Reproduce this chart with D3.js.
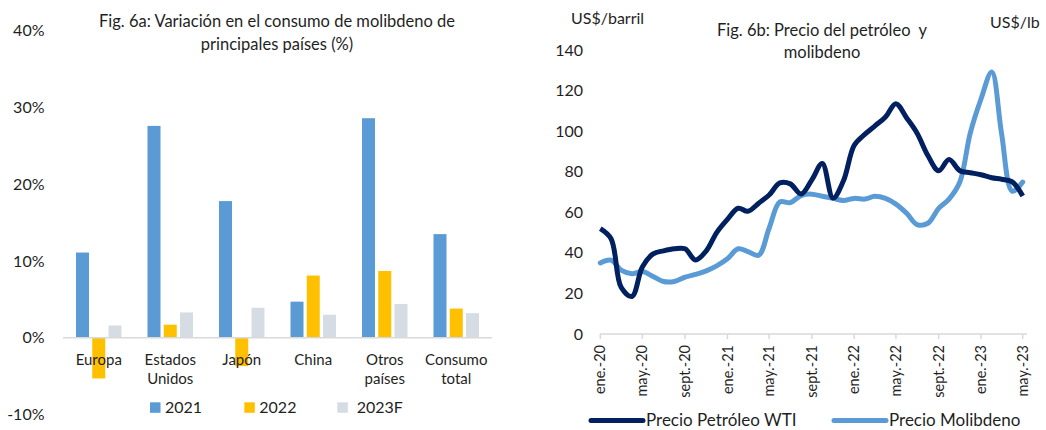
<!DOCTYPE html>
<html>
<head>
<meta charset="utf-8">
<script src="https://cdn.jsdelivr.net/npm/d3@7"></script>
<style>
    body { margin: 0; background: #fff; }
    svg { display: block; font-family: Lato, sans-serif; }
</style>
</head>
<body>
<svg id="chart" width="1046" height="430"></svg>
<script>
// ---- Fig. 6a data (% change) ----
const countries = [["Europa"], ["Estados", "Unidos"], ["Japón"], ["China"], ["Otros", "países"], ["Consumo", "total"]];
const seriesNames = ["2021", "2022", "2023F"];
const v2021 = [11.1, 27.6, 17.8, 4.7, 28.6, 13.5];
const v2022 = [-5.3, 1.7, -3.7, 8.1, 8.7, 3.8];
const v2023F = [1.6, 3.3, 3.9, 3.0, 4.4, 3.2];
const pctTicks = [-10, 0, 10, 20, 30, 40];

// ---- Fig. 6b data (monthly, ene.-20 .. may.-23) ----
const wti = [52, 47, 23, 18.5, 33, 39.5, 41, 42, 42, 36.5, 41, 50, 56.5,
    62, 60.5, 64.5, 68.5, 74.5, 74, 69, 76, 84, 67, 75.5, 93, 98.5, 102.5,
    107, 113.5, 106.5, 99, 88, 80.5, 86, 80.5, 79.5, 78.5, 77, 76.3, 75, 68];
// US$/lb, read against the hidden right axis (0..40)
const molibdeno = [10.0, 10.4, 9.0, 8.5, 8.8, 8.1, 7.4, 7.4, 8.0, 8.4, 8.9, 9.6, 10.6,
    12.0, 11.6, 11.1, 14.9, 18.6, 18.5, 19.5, 19.7, 19.4, 19.1, 18.8, 19.1, 19.0, 19.4,
    19.1, 18.3, 17.0, 15.4, 15.6, 17.7, 19.0, 21.4, 28.3, 33.1, 36.9, 28.3, 20.1, 21.4];
const priceTicks = [0, 20, 40, 60, 80, 100, 120, 140];
const monthNames = ["ene.", "feb.", "mar.", "abr.", "may.", "jun.", "jul.", "ago.", "sept.", "oct.", "nov.", "dic."];

const textColor = "#1f1f1f";
const gridColor = "#d9d9d9";

const svg = d3.select("#chart");

/**
 * Left panel: grouped bars
 */
function drawBars() {
    const colors = {"2021": "#5b9bd5", "2022": "#ffc000", "2023F": "#d6dce4"};
    const values = {"2021": v2021, "2022": v2022, "2023F": v2023F};

    const y = d3.scaleLinear().domain([-10, 40]).range([414.5, 30.7]);
    const x0 = d3.scaleBand().domain(d3.range(countries.length)).range([63, 492]);
    const x1 = d3.scaleBand().domain(seriesNames).range([13, 58.5]).paddingInner(0.2);

    const g = svg.append("g");

    // title
    g.append("text").attr("x", 277).attr("y", 27).attr("text-anchor", "middle")
        .attr("font-size", 16.5).attr("fill", textColor)
        .text("Fig. 6a: Variación en el consumo de molibdeno de");
    g.append("text").attr("x", 277).attr("y", 50).attr("text-anchor", "middle")
        .attr("font-size", 16.5).attr("fill", textColor)
        .text("principales países (%)");

    // y labels
    g.selectAll(".ylab").data(pctTicks).enter().append("text")
        .attr("x", 44.5).attr("y", d => y(d)).attr("dy", "0.35em")
        .attr("text-anchor", "end").attr("font-size", 16).attr("fill", textColor)
        .text(d => d + "%");

    // bars
    countries.forEach((c, i) => {
        seriesNames.forEach(s => {
            const v = values[s][i];
            g.append("rect")
                .attr("x", x0(i) + x1(s))
                .attr("width", x1.bandwidth())
                .attr("y", y(Math.max(0, v)))
                .attr("height", Math.abs(y(v) - y(0)))
                .attr("fill", colors[s]);
        });
    });

    // zero line
    g.append("line").attr("x1", 63).attr("x2", 492).attr("y1", y(0)).attr("y2", y(0))
        .attr("stroke", gridColor).attr("stroke-width", 1.5);

    // category labels
    countries.forEach((lines, i) => {
        const t = g.append("text").attr("text-anchor", "middle")
            .attr("font-size", 15).attr("fill", textColor);
        lines.forEach((l, k) => {
            t.append("tspan").attr("x", x0(i) + x0.bandwidth() / 2)
                .attr("y", 364.5 + k * 19.5).text(l);
        });
    });

    // legend
    const legX = [150, 244.3, 337.3];
    const legTx = [165, 259.3, 356.7];
    seriesNames.forEach((s, i) => {
        g.append("rect").attr("x", legX[i]).attr("y", 402.3).attr("width", 10.5).attr("height", 10.5)
            .attr("fill", colors[s]);
        g.append("text").attr("x", legTx[i]).attr("y", 407.5).attr("dy", "0.35em")
            .attr("font-size", 16).attr("fill", textColor).text(s);
    });
}

/**
 * Right panel: oil and molybdenum prices
 */
function drawLines() {
    const start = new Date(2020, 0, 1);
    const months = d3.timeMonth.range(start, d3.timeMonth.offset(start, wti.length));

    const x = d3.scaleTime().domain([months[0], months[months.length - 1]]).range([600.3, 1022.7]);
    const y = d3.scaleLinear().domain([0, 140]).range([334, 50]);
    const yR = d3.scaleLinear().domain([0, 40]).range([334, 50]);

    const g = svg.append("g");

    // axis titles and chart title
    g.append("text").attr("x", 571).attr("y", 18).attr("dy", "0.35em")
        .attr("font-size", 16).attr("fill", textColor).text("US$/barril");
    g.append("text").attr("x", 990).attr("y", 22.5).attr("dy", "0.35em")
        .attr("font-size", 16).attr("fill", textColor).text("US$/lb");
    g.append("text").attr("x", 822).attr("y", 36).attr("text-anchor", "middle")
        .attr("font-size", 16.5).attr("fill", textColor).text("Fig. 6b: Precio del petróleo  y")
        .style("white-space", "pre");
    g.append("text").attr("x", 822).attr("y", 58).attr("text-anchor", "middle")
        .attr("font-size", 16.5).attr("fill", textColor).text("molibdeno");

    // y labels
    g.selectAll(".ylab").data(priceTicks).enter().append("text")
        .attr("x", 583).attr("y", d => y(d)).attr("dy", "0.35em")
        .attr("text-anchor", "end").attr("font-size", 16).attr("fill", textColor)
        .text(d => d);

    // x axis
    const tickDates = d3.timeMonth.every(4).range(start, d3.timeMonth.offset(months[months.length - 1], 1));
    g.append("line").attr("x1", 600).attr("x2", 1027).attr("y1", 334).attr("y2", 334)
        .attr("stroke", gridColor).attr("stroke-width", 1.5);
    g.selectAll(".tick").data(tickDates).enter().append("line")
        .attr("x1", d => x(d)).attr("x2", d => x(d)).attr("y1", 334).attr("y2", 339)
        .attr("stroke", gridColor).attr("stroke-width", 1.5);
    g.selectAll(".xlab").data(tickDates).enter().append("text")
        .attr("transform", d => "translate(" + x(d) + ",345) rotate(-90)")
        .attr("dy", "0.35em").attr("text-anchor", "end")
        .attr("font-size", 14.5).attr("fill", textColor)
        .text(d => monthNames[d.getMonth()] + "-" + String(d.getFullYear()).slice(2));

    // lines
    const line = d3.line().curve(d3.curveCatmullRom.alpha(0.5));
    g.append("path")
        .attr("d", line(months.map((d, i) => [x(d), yR(molibdeno[i])])))
        .attr("fill", "none").attr("stroke", "#5b9bd5").attr("stroke-width", 5)
        .attr("stroke-linejoin", "round").attr("stroke-linecap", "round");
    g.append("path")
        .attr("d", line(months.map((d, i) => [x(d), y(wti[i])])))
        .attr("fill", "none").attr("stroke", "#002060").attr("stroke-width", 5)
        .attr("stroke-linejoin", "round");

    // legend
    const leg = [
        {name: "Precio Petróleo WTI", color: "#002060", x: 591},
        {name: "Precio Molibdeno", color: "#5b9bd5", x: 834}
    ];
    leg.forEach(d => {
        g.append("line").attr("x1", d.x).attr("x2", d.x + 52).attr("y1", 420.5).attr("y2", 420.5)
            .attr("stroke", d.color).attr("stroke-width", 5).attr("stroke-linecap", "round");
        g.append("text").attr("x", d.x + 55).attr("y", 420.5).attr("dy", "0.35em")
            .attr("font-size", 17).attr("fill", textColor).text(d.name);
    });
}

drawBars();
drawLines();
</script>
</body>
</html>
